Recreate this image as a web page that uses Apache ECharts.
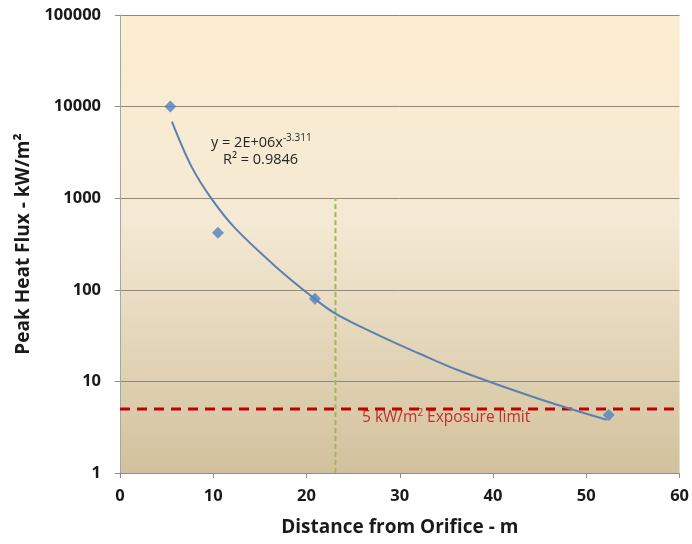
<!DOCTYPE html>
<html>
<head>
<meta charset="utf-8">
<script src="https://cdn.jsdelivr.net/npm/echarts@6/dist/echarts.min.js"></script>
<style>
  html, body { margin: 0; padding: 0; background: #fff; }
  #chart { width: 692px; height: 544px; }
</style>
</head>
<body>
<div id="chart"></div>
<script>
// measured points (distance m, peak heat flux kW/m2)
const distance = [5.4, 10.5, 20.9, 52.4];
const heatFlux = [10000, 420, 80, 4.3];

// power trendline
const trendX = [5.57, 7.64, 9.77, 12.26, 16.7, 20.6, 23.1, 27.7, 32, 36.2, 44.8, 52.2];
const trendY = [6840, 2240, 1000, 480, 179, 84, 55, 32, 20.3, 13.3, 6.5, 3.8];

// exposure limit and the vertical marker
const limitX = [0, 60];
const limitY = [5, 5];
const markerX = [23.1, 23.1];
const markerY = [1, 1000];

const xTicks = [0, 10, 20, 30, 40, 50, 60];
const yTicks = [1, 10, 100, 1000, 10000, 100000];

const FONT = '"Open Sans", "Noto Sans", sans-serif';
const BLUE = '#4f81bd';

const chart = echarts.init(document.getElementById('chart'), null, { renderer: 'canvas' });

const pair = (xs, ys) => xs.map((x, i) => [x, ys[i]]);

chart.setOption({
  animation: false,
  backgroundColor: '#fff',
  grid: {
    left: 120, right: 9, top: 15, bottom: 71,
    show: true,
    borderWidth: 0,
    backgroundColor: new echarts.graphic.LinearGradient(0, 0, 0, 1, [
      { offset: 0, color: '#fdedd0' },
      { offset: 0.45, color: '#f4e9d4' },
      { offset: 1, color: '#d2c19c' },
    ]),
  },
  xAxis: {
    type: 'value',
    min: xTicks[0],
    max: xTicks[xTicks.length - 1],
    interval: 10,
    name: 'Distance from Orifice - m',
    nameLocation: 'middle',
    nameGap: 45,
    nameTextStyle: { fontFamily: FONT, fontWeight: 'bold', fontSize: 19, color: '#1a1a1a' },
    axisLine: { lineStyle: { color: '#8c8c8c' } },
    axisTick: { show: true, length: 5, lineStyle: { color: '#8c8c8c' } },
    axisLabel: { fontFamily: FONT, fontWeight: 'bold', fontSize: 16.5, color: '#1a1a1a', margin: 15 },
    splitLine: { show: false },
  },
  yAxis: {
    type: 'log',
    logBase: 10,
    min: yTicks[0],
    max: yTicks[yTicks.length - 1],
    name: 'Peak Heat Flux - kW/m²',
    nameLocation: 'middle',
    nameGap: 77,
    nameTextStyle: { fontFamily: FONT, fontWeight: 'bold', fontSize: 19, color: '#1a1a1a' },
    axisLine: { show: true, lineStyle: { color: '#a6a6a6' } },
    axisTick: { show: true, length: 5, lineStyle: { color: '#8c8c8c' } },
    axisLabel: {
      fontFamily: FONT, fontWeight: 'bold', fontSize: 16.5, color: '#1a1a1a', margin: 19,
      formatter: v => String(Math.round(v)),
    },
    splitLine: { show: true, lineStyle: { color: '#8f8a80', width: 1 } },
  },
  series: [
    {
      name: 'limit',
      type: 'line',
      data: pair(limitX, limitY),
      showSymbol: false,
      lineStyle: { color: '#c00000', width: 3, type: [10, 7] },
      z: 3,
    },
    {
      name: 'marker',
      type: 'line',
      data: pair(markerX, markerY),
      showSymbol: false,
      lineStyle: { color: '#9bbb59', width: 2, type: [5, 3] },
      z: 3,
    },
    {
      name: 'trend',
      type: 'line',
      data: pair(trendX, trendY),
      smooth: 0.35,
      showSymbol: false,
      lineStyle: { color: '#5b80b2', width: 2 },
      z: 4,
    },
    {
      name: 'measured',
      type: 'scatter',
      data: pair(distance, heatFlux),
      symbol: 'diamond',
      symbolSize: 12,
      itemStyle: { color: BLUE },
      z: 5,
    },
  ],
  graphic: [
    {
      type: 'text',
      left: 211, top: 133,
      style: {
        text: '{n|y = 2E+06x}{s|-3.311}',
        rich: {
          n: { fontFamily: FONT, fontSize: 14.5, fill: '#262626' },
          s: { fontFamily: FONT, fontSize: 10, fill: '#262626', padding: [0, 0, 9, 0] },
        },
      },
    },
    {
      type: 'text',
      left: 223, top: 152,
      style: {
        text: 'R² = 0.9846',
        fontFamily: FONT, fontSize: 14.5, fill: '#262626',
      },
    },
    {
      type: 'text',
      left: 362, top: 408,
      style: {
        text: '{n|5 kW/m}{s|2}{n| Exposure limit}',
        rich: {
          n: { fontFamily: FONT, fontSize: 15.5, fill: '#c0302a' },
          s: { fontFamily: FONT, fontSize: 10, fill: '#c0302a', padding: [0, 0, 9, 0] },
        },
      },
    },
  ],
});
</script>
</body>
</html>
